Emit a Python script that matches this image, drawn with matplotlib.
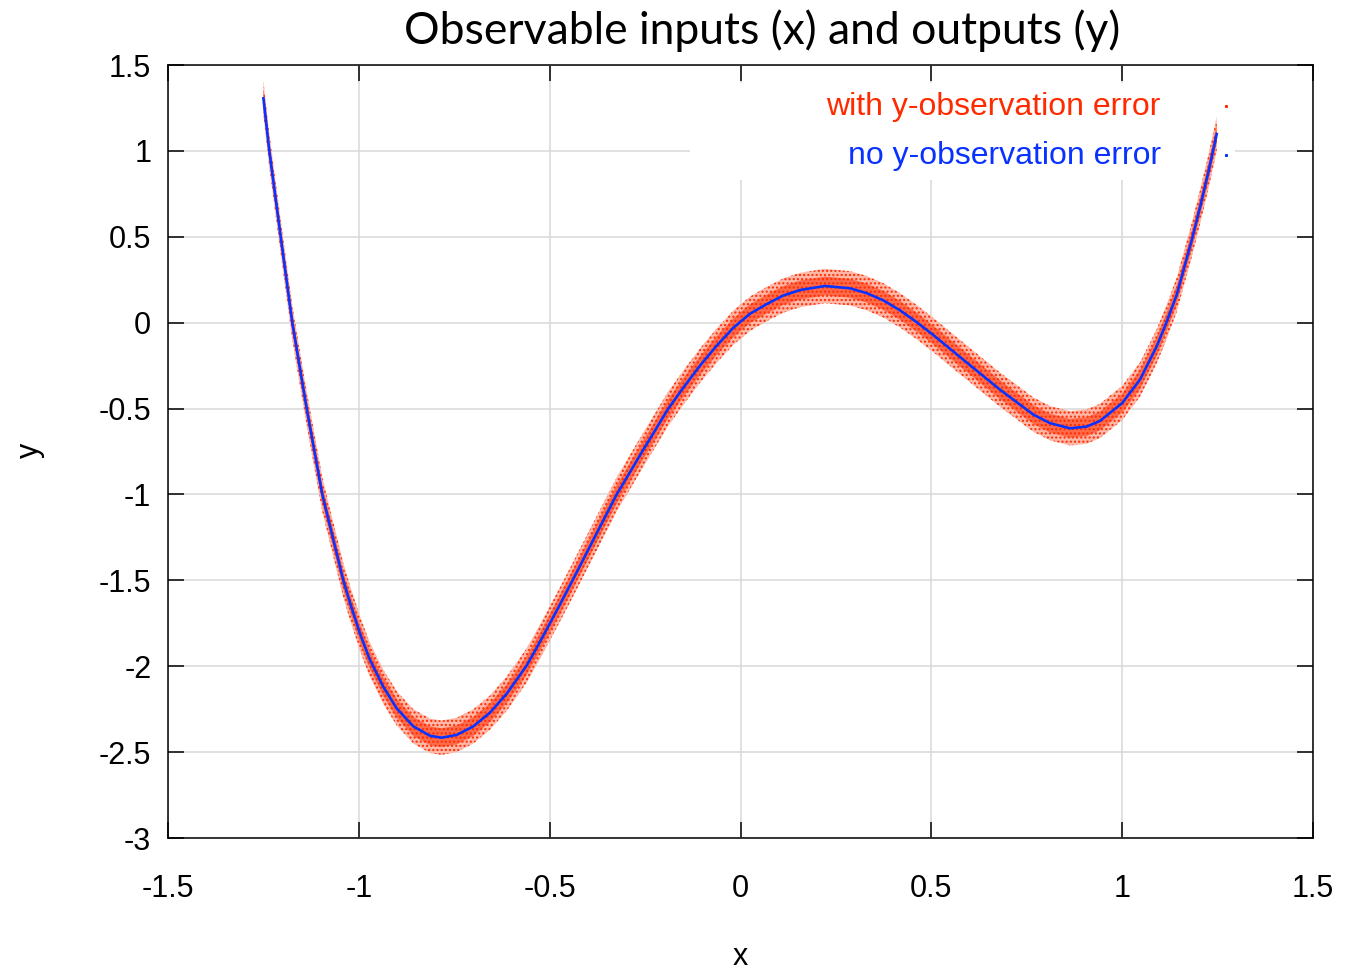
import matplotlib
matplotlib.use("Agg")
import matplotlib.pyplot as plt
from matplotlib.patches import Rectangle

plt.rcParams['axes.unicode_minus'] = False
plt.rcParams['font.family'] = ['Liberation Sans', 'DejaVu Sans']

# ---- data ----
x_true = [-1.250, -1.2345, -1.2047, -1.1743, -1.1366, -1.0957, -1.0407, -1.0232,
          -0.9969, -0.9725, -0.9359, -0.9008, -0.8573, -0.8135, -0.783, -0.7436,
          -0.700, -0.6563, -0.6126, -0.560, -0.5384, -0.5167, -0.4729, -0.4423,
          -0.3857, -0.3244, -0.2547, -0.1891, -0.1476, -0.1061, -0.0624, -0.0189,
          0.0249, 0.0686, 0.1121, 0.1559, 0.2214, 0.2869, 0.3306, 0.3742,
          0.4179, 0.4616, 0.5052, 0.5751, 0.5927, 0.6799, 0.7672, 0.8109,
          0.8633, 0.907, 0.9419, 1.0, 1.0472, 1.0905, 1.1149, 1.1429,
          1.182, 1.204, 1.2257, 1.2477]
y_true = [1.306, 1.0, 0.5, 0.0, -0.5, -1.0, -1.5, -1.63,
          -1.81, -1.955, -2.12, -2.245, -2.350, -2.405, -2.416, -2.400,
          -2.350, -2.270, -2.160, -1.995, -1.91, -1.822, -1.64, -1.51,
          -1.265, -1.0, -0.74, -0.5, -0.372, -0.25, -0.134, -0.03,
          0.052, 0.108, 0.158, 0.19, 0.2136, 0.200, 0.172, 0.130,
          0.072, 0.003, -0.072, -0.2, -0.232, -0.39, -0.535, -0.585,
          -0.615, -0.605, -0.572, -0.468, -0.33, -0.138, -0.005, 0.162,
          0.478, 0.672, 0.875, 1.098]
noise_inner = 0.055   # dense part of the y-observation scatter (half width)
noise_outer = 0.10    # sparse outer part of the scatter (half width)

x_ticks = [-1.5, -1, -0.5, 0, 0.5, 1, 1.5]
x_tick_labels = ['-1.5', '-1', '-0.5', '0', '0.5', '1', '1.5']
y_ticks = [-3, -2.5, -2, -1.5, -1, -0.5, 0, 0.5, 1, 1.5]
y_tick_labels = ['-3', '-2.5', '-2', '-1.5', '-1', '-0.5', '0', '0.5', '1', '1.5']

title = 'Observable inputs (x) and outputs (y)'
label_red = 'with y-observation error'
label_blue = 'no y-observation error'

RED = '#ff2a00'
BLUE = '#0a32ff'

W, H = 1355, 971
fig = plt.figure(figsize=(W / 100, H / 100), dpi=100)
ax = fig.add_axes([168 / W, 1 - 838 / H, (1313 - 168) / W, (838 - 65) / H])

ax.set_xlim(-1.5, 1.5)
ax.set_ylim(-3, 1.5)
ax.set_xticks(x_ticks)
ax.set_xticklabels(x_tick_labels)
ax.set_yticks(y_ticks)
ax.set_yticklabels(y_tick_labels)
ax.tick_params(direction='in', length=11.5, width=1.1, top=True, right=True,
               labelsize=22, color='black')
ax.tick_params(axis='x', pad=26)
ax.tick_params(axis='y', pad=12)
for s in ax.spines.values():
    s.set_linewidth(1.1)
ax.grid(True, color='#d8d8d8', linewidth=1.1, zorder=0)
ax.set_axisbelow(True)

# white key box covering the grid
ax.add_patch(Rectangle((690, H - 180), 545, 97, transform=None,
                       facecolor='white', edgecolor='none', zorder=1.5))

lo_o = [v - noise_outer for v in y_true]
hi_o = [v + noise_outer for v in y_true]
lo_i = [v - noise_inner for v in y_true]
hi_i = [v + noise_inner for v in y_true]
ax.fill_between(x_true, lo_o, hi_o, facecolor='#ffb8a8', edgecolor=RED,
                hatch='....', linewidth=0, zorder=2)
ax.fill_between(x_true, lo_i, hi_i, facecolor='#ff6a4a', edgecolor=RED,
                hatch='....', linewidth=0, zorder=2.1)
ax.plot(x_true, y_true, color=BLUE, linewidth=1.9, zorder=3,
        solid_joinstyle='round')

# key
ax.text(1160, H - 107, label_red, transform=None, ha='right', va='center',
        fontsize=23, color=RED, zorder=4)
ax.text(1161, H - 156, label_blue, transform=None, ha='right', va='center',
        fontsize=23, color=BLUE, zorder=4)
ax.plot([1226], [H - 106], marker='s', markersize=1.2, color=RED,
        transform=None, zorder=4)
ax.plot([1226], [H - 155], marker='s', markersize=1.2, color=BLUE,
        transform=None, zorder=4)

fig.text(762 / W, 1 - 31 / H, title, ha='center', va='center', fontsize=32,
         family=['Lato', 'DejaVu Sans'])
fig.text(740 / W, 1 - 965 / H, 'x', ha='center', va='baseline', fontsize=22)
fig.text(30 / W, 1 - 450 / H, 'y', ha='center', va='center', fontsize=22,
         rotation=90)

fig.savefig('out.png', dpi=100)
